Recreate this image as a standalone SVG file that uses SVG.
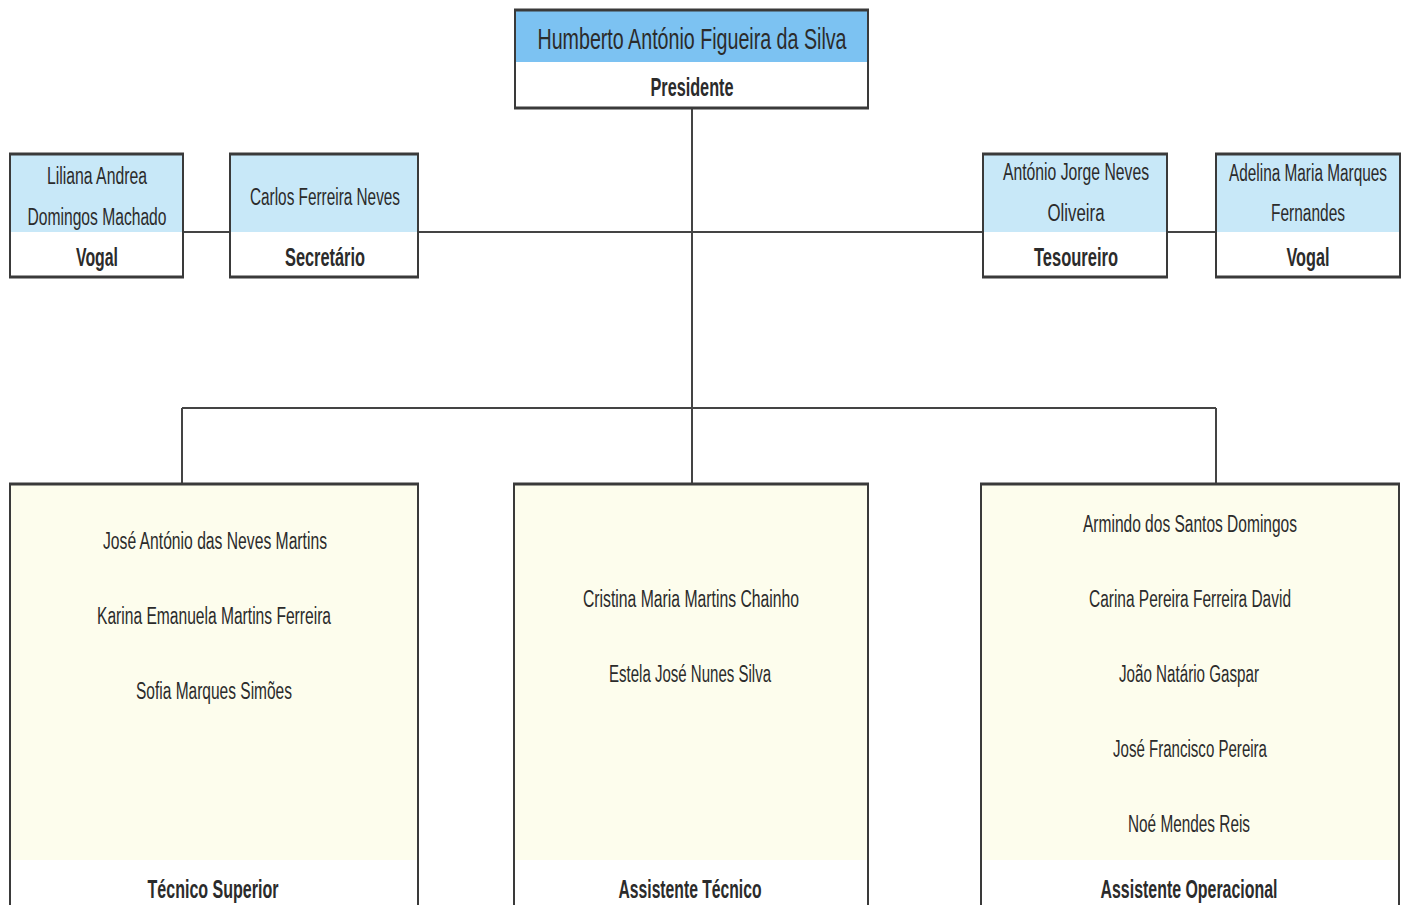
<svg xmlns="http://www.w3.org/2000/svg" width="1407" height="905" viewBox="0 0 1407 905">
<style>
text{font-family:"Liberation Sans Narrow","Liberation Sans",Arial,sans-serif;fill:#2b2b2b;text-anchor:middle}
.nm{font-size:23px}
.big{font-size:29px}
.lb{font-size:25px;font-weight:bold}
.box{fill:none;stroke:#3a3a3a;stroke-width:2}
.edge{stroke:#3a3a3a;stroke-width:3}
.blue{fill:#c8e8f8}
.blue2{fill:#7cc2f2}
.yel{fill:#fdfded}
.conn{stroke:#444;stroke-width:2;fill:none}
</style>
<rect width="1407" height="905" fill="#fff"/>
<g id="connectors">
<line class="conn" x1="692" y1="108" x2="692" y2="484"/>
<line class="conn" x1="183" y1="232" x2="230" y2="232"/>
<line class="conn" x1="418" y1="232" x2="983" y2="232"/>
<line class="conn" x1="1167" y1="232" x2="1216" y2="232"/>
<line class="conn" x1="182" y1="408" x2="1216" y2="408"/>
<line class="conn" x1="182" y1="408" x2="182" y2="484"/>
<line class="conn" x1="1216" y1="408" x2="1216" y2="484"/>
</g>
<g id="presidente">
<rect x="515" y="10" width="353" height="98" fill="#fff"/>
<rect class="blue2" x="515" y="11" width="353" height="51"/>
<rect class="box" x="515" y="10" width="353" height="98"/>
<line class="edge" x1="514" y1="10" x2="869" y2="10"/>
<line class="edge" x1="514" y1="108" x2="869" y2="108"/>
<text class="big" x="692" y="49" textLength="309" lengthAdjust="spacingAndGlyphs">Humberto António Figueira da Silva</text>
<text class="lb" x="692" y="96" textLength="83" lengthAdjust="spacingAndGlyphs">Presidente</text>
</g>
<g id="vogal1">
<rect x="10" y="154" width="173" height="123" fill="#fff"/>
<rect class="blue" x="10" y="154" width="173" height="78"/>
<rect class="box" x="10" y="154" width="173" height="123"/>
<line class="edge" x1="9" y1="154" x2="184" y2="154"/>
<line class="edge" x1="9" y1="277" x2="184" y2="277"/>
<text class="nm" x="97" y="184" textLength="100" lengthAdjust="spacingAndGlyphs">Liliana Andrea</text>
<text class="nm" x="97" y="225" textLength="139" lengthAdjust="spacingAndGlyphs">Domingos Machado</text>
<text class="lb" x="97" y="266" textLength="42" lengthAdjust="spacingAndGlyphs">Vogal</text>
</g>
<g id="secretario">
<rect x="230" y="154" width="188" height="123" fill="#fff"/>
<rect class="blue" x="230" y="154" width="188" height="78"/>
<rect class="box" x="230" y="154" width="188" height="123"/>
<line class="edge" x1="229" y1="154" x2="419" y2="154"/>
<line class="edge" x1="229" y1="277" x2="419" y2="277"/>
<text class="nm" x="325" y="205" textLength="150" lengthAdjust="spacingAndGlyphs">Carlos Ferreira Neves</text>
<text class="lb" x="325" y="266" textLength="80" lengthAdjust="spacingAndGlyphs">Secretário</text>
</g>
<g id="tesoureiro">
<rect x="983" y="154" width="184" height="123" fill="#fff"/>
<rect class="blue" x="983" y="154" width="184" height="78"/>
<rect class="box" x="983" y="154" width="184" height="123"/>
<line class="edge" x1="982" y1="154" x2="1168" y2="154"/>
<line class="edge" x1="982" y1="277" x2="1168" y2="277"/>
<text class="nm" x="1076" y="180" textLength="146" lengthAdjust="spacingAndGlyphs">António Jorge Neves</text>
<text class="nm" x="1076" y="221" textLength="57" lengthAdjust="spacingAndGlyphs">Oliveira</text>
<text class="lb" x="1076" y="266" textLength="84" lengthAdjust="spacingAndGlyphs">Tesoureiro</text>
</g>
<g id="vogal2">
<rect x="1216" y="154" width="184" height="123" fill="#fff"/>
<rect class="blue" x="1216" y="154" width="184" height="78"/>
<rect class="box" x="1216" y="154" width="184" height="123"/>
<line class="edge" x1="1215" y1="154" x2="1401" y2="154"/>
<line class="edge" x1="1215" y1="277" x2="1401" y2="277"/>
<text class="nm" x="1308" y="181" textLength="158" lengthAdjust="spacingAndGlyphs">Adelina Maria Marques</text>
<text class="nm" x="1308" y="221" textLength="74" lengthAdjust="spacingAndGlyphs">Fernandes</text>
<text class="lb" x="1308" y="266" textLength="43" lengthAdjust="spacingAndGlyphs">Vogal</text>
</g>
<g id="tecnico-superior">
<rect x="10" y="484" width="408" height="430" fill="#fff"/>
<rect class="yel" x="10" y="484" width="408" height="376"/>
<rect class="box" x="10" y="484" width="408" height="430"/>
<line class="edge" x1="9" y1="484" x2="419" y2="484"/>
<text class="nm" x="215" y="549" textLength="224" lengthAdjust="spacingAndGlyphs">José António das Neves Martins</text>
<text class="nm" x="214" y="624" textLength="234" lengthAdjust="spacingAndGlyphs">Karina Emanuela Martins Ferreira</text>
<text class="nm" x="214" y="699" textLength="156" lengthAdjust="spacingAndGlyphs">Sofia Marques Simões</text>
<text class="lb" x="213" y="898" textLength="131" lengthAdjust="spacingAndGlyphs">Técnico Superior</text>
</g>
<g id="assistente-tecnico">
<rect x="514" y="484" width="354" height="430" fill="#fff"/>
<rect class="yel" x="514" y="484" width="354" height="376"/>
<rect class="box" x="514" y="484" width="354" height="430"/>
<line class="edge" x1="513" y1="484" x2="869" y2="484"/>
<text class="nm" x="691" y="607" textLength="216" lengthAdjust="spacingAndGlyphs">Cristina Maria Martins Chainho</text>
<text class="nm" x="690" y="682" textLength="162" lengthAdjust="spacingAndGlyphs">Estela José Nunes Silva</text>
<text class="lb" x="690" y="898" textLength="143" lengthAdjust="spacingAndGlyphs">Assistente Técnico</text>
</g>
<g id="assistente-operacional">
<rect x="981" y="484" width="418" height="430" fill="#fff"/>
<rect class="yel" x="981" y="484" width="418" height="376"/>
<rect class="box" x="981" y="484" width="418" height="430"/>
<line class="edge" x1="980" y1="484" x2="1400" y2="484"/>
<text class="nm" x="1190" y="532" textLength="214" lengthAdjust="spacingAndGlyphs">Armindo dos Santos Domingos</text>
<text class="nm" x="1190" y="607" textLength="202" lengthAdjust="spacingAndGlyphs">Carina Pereira Ferreira David</text>
<text class="nm" x="1189" y="682" textLength="140" lengthAdjust="spacingAndGlyphs">João Natário Gaspar</text>
<text class="nm" x="1190" y="757" textLength="154" lengthAdjust="spacingAndGlyphs">José Francisco Pereira</text>
<text class="nm" x="1189" y="832" textLength="122" lengthAdjust="spacingAndGlyphs">Noé Mendes Reis</text>
<text class="lb" x="1189" y="898" textLength="177" lengthAdjust="spacingAndGlyphs">Assistente Operacional</text>
</g>
</svg>
